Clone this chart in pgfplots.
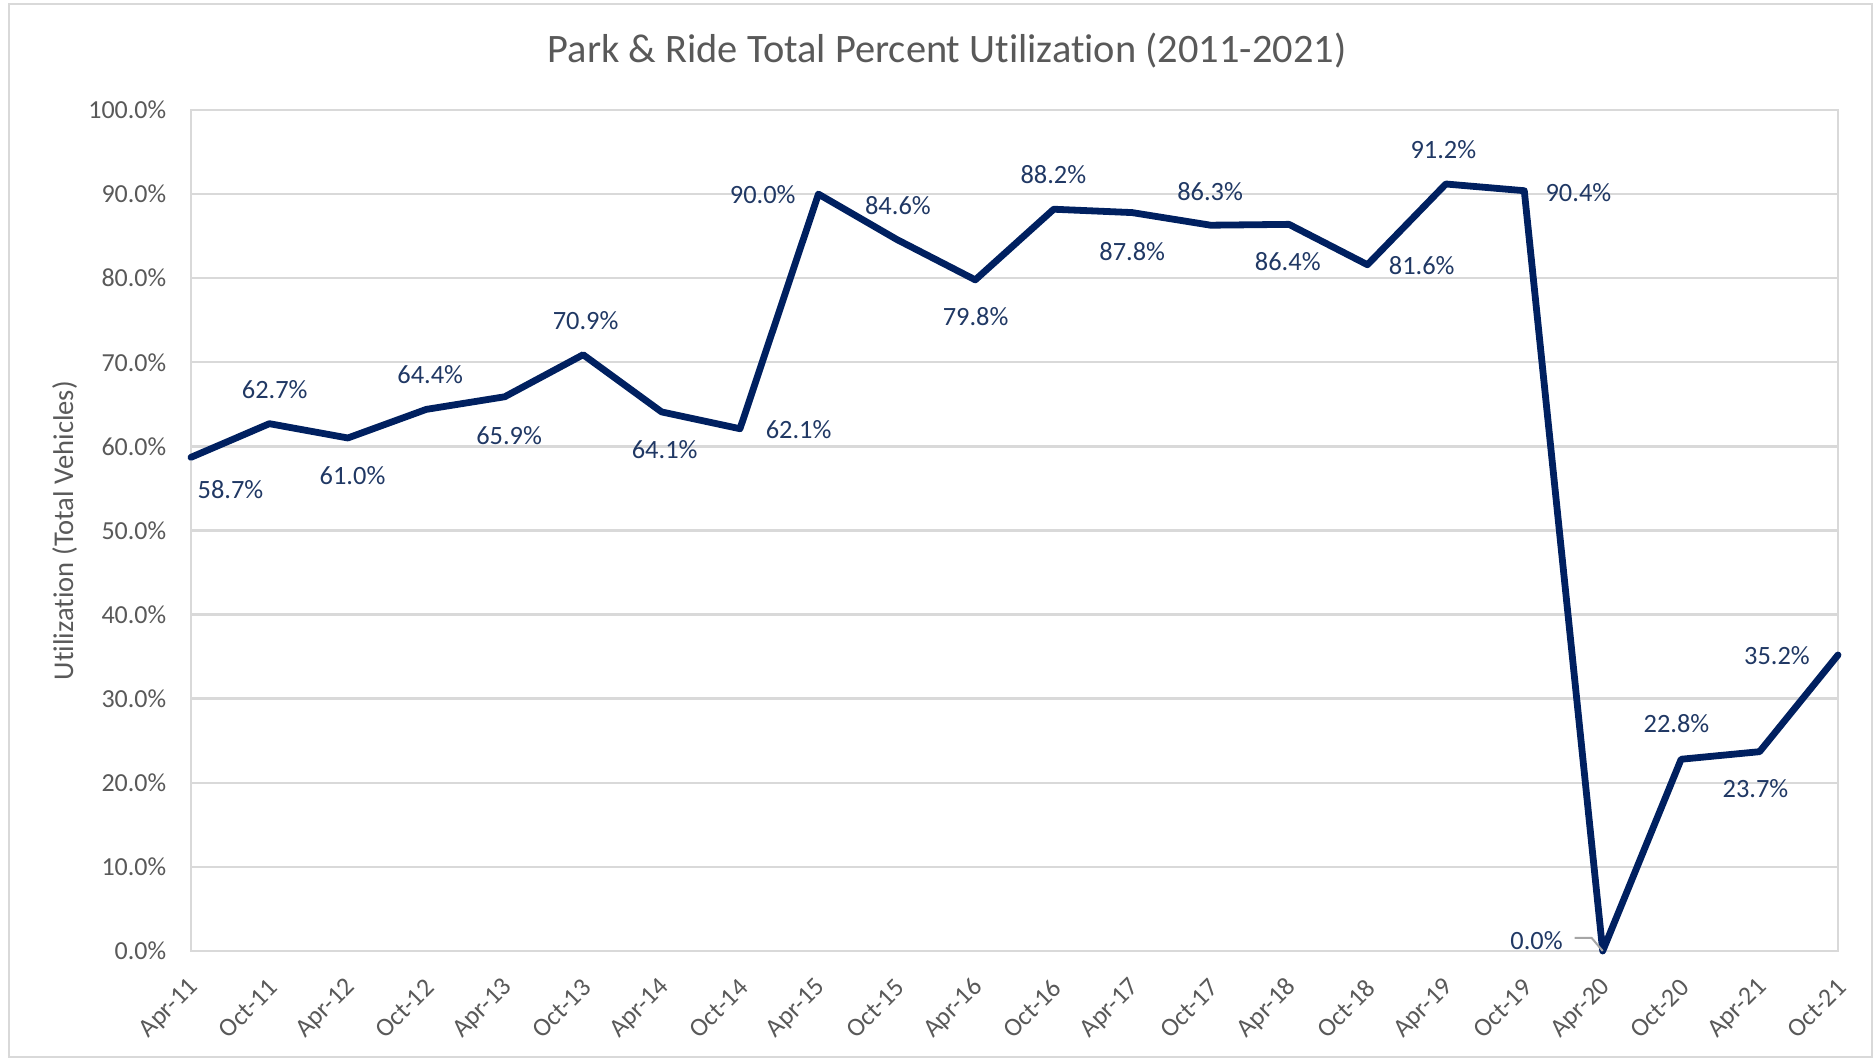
\documentclass[border=0pt]{standalone}
\usepackage{pgfplots}
\pgfplotsset{compat=1.18}
\usepackage{fontspec}
\setmainfont{Carlito}[Ligatures=NoCommon]
\definecolor{navy}{HTML}{002060}
\definecolor{lblc}{HTML}{203864}
\definecolor{tickc}{HTML}{595959}
\definecolor{gridc}{HTML}{D9D9D9}
\pgfplotstableread{
x y lab dx dy
0 58.7 58.7 9.87 -7.98
1 62.7 62.7 1.32 8.43
2 61.0 61.0 1.17 -9.51
3 64.4 64.4 0.99 8.76
4 65.9 65.9 1.11 -9.66
5 70.9 70.9 0.63 8.55
6 64.1 64.1 0.78 -9.45
7 62.1 62.1 14.65 -0.18
8 90.0 90.0 -13.93 -0.21
9 84.6 84.6 0.27 8.46
10 79.8 79.8 0.09 -9.27
11 88.2 88.2 -0.09 8.67
12 87.8 87.8 0.03 -9.63
13 86.3 86.3 -0.12 8.46
14 86.4 86.4 -0.3 -9.39
15 81.6 81.6 13.57 -0.18
16 91.2 91.2 -0.63 8.64
17 90.4 90.4 13.54 -0.45
18 0.0 0.0 -16.53 2.69
19 22.8 22.8 -1.17 8.88
20 23.7 23.7 -1.02 -9.15
21 35.2 35.2 -15.25 -0.15
}\datatable
\begin{document}
\begin{tikzpicture}
\begin{axis}[
  scale only axis, width=411.75pt, height=210.25pt,
  xmin=0, xmax=21, ymin=0, ymax=100,
  xtick={0,...,21},
  xticklabels={Apr-11,Oct-11,Apr-12,Oct-12,Apr-13,Oct-13,Apr-14,Oct-14,Apr-15,Oct-15,Apr-16,Oct-16,Apr-17,Oct-17,Apr-18,Oct-18,Apr-19,Oct-19,Apr-20,Oct-20,Apr-21,Oct-21},
  ytick={0,10,...,100},
  yticklabels={0.0\%,10.0\%,20.0\%,30.0\%,40.0\%,50.0\%,60.0\%,70.0\%,80.0\%,90.0\%,100.0\%},
  ymajorgrids, major grid style={gridc, line width=0.6pt},
  axis line style={gridc, line width=0.6pt},
  major tick length=0pt,
  tick label style={font=\fontsize{6.5}{7.8}\selectfont, text=tickc, inner sep=0pt},
  xticklabel style={xshift=1pt, yshift=-8pt, rotate=45, anchor=east},
  yticklabel style={anchor=east, xshift=-6pt},
  clip=false,
]
\addplot[navy, line width=1.7pt, line join=round, line cap=round, mark=none,
  point meta=explicit symbolic,
  nodes near coords={\pgfplotspointmeta\%},
  visualization depends on={\thisrow{dx} \as \dx},
  visualization depends on={\thisrow{dy} \as \dy},
  every node near coord/.append style={anchor=center, xshift=\dx pt, yshift=\dy pt,
    font=\fontsize{6.6}{7.9}\selectfont, text=lblc, inner sep=0pt}
] table[x=x, y=y, meta=lab] {\datatable};
\draw[gray!70, line width=0.5pt] ([shift={(-7pt,3.25pt)}]axis cs:18,0) -- ([shift={(-2.75pt,3.25pt)}]axis cs:18,0) -- (axis cs:18,0);
\end{axis}
\node[font=\fontsize{10.1}{12}\selectfont, text=tickc] at (189pt,225pt) {Park \& Ride Total Percent Utilization (2011-2021)};
\node[font=\fontsize{7.15}{8.6}\selectfont, text=tickc, rotate=90] at (-31.6pt,105.1pt) {Utilization (Total Vehicles)};
\pgfresetboundingbox
\path[use as bounding box] (-47.75pt,-27pt) rectangle (421pt,237.75pt);
\draw[gridc, line width=0.6pt] (-45.5pt,-26.5pt) rectangle (420.25pt,236.75pt);
\end{tikzpicture}
\end{document}
